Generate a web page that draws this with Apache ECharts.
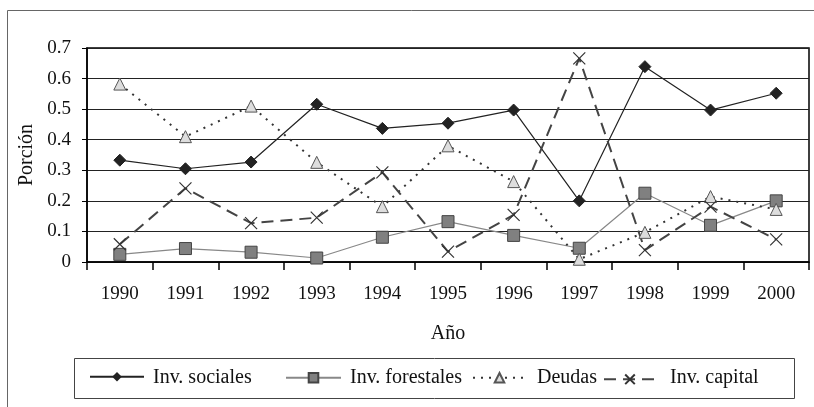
<!DOCTYPE html>
<html>
<head>
<meta charset="utf-8">
<script src="https://cdn.jsdelivr.net/npm/echarts@6/dist/echarts.min.js"></script>
<style>
  html, body { margin: 0; padding: 0; background: #fff; }
  #chart { width: 814px; height: 407px; }
</style>
</head>
<body>
<div id="chart"></div>
<script>
// datos
const years = ['1990', '1991', '1992', '1993', '1994', '1995', '1996', '1997', '1998', '1999', '2000'];
const seriesNames = ['Inv. sociales', 'Inv. forestales', 'Deudas', 'Inv. capital'];
const invSociales = [0.333, 0.305, 0.327, 0.516, 0.437, 0.454, 0.497, 0.200, 0.639, 0.497, 0.552];
const invForestales = [0.025, 0.044, 0.032, 0.013, 0.081, 0.132, 0.087, 0.045, 0.225, 0.120, 0.200];
const deudas = [0.582, 0.410, 0.510, 0.326, 0.181, 0.380, 0.263, 0.009, 0.097, 0.214, 0.172];
const invCapital = [0.058, 0.241, 0.127, 0.145, 0.293, 0.034, 0.154, 0.666, 0.039, 0.181, 0.074];

const font = 'Liberation Serif';
const crossPath = 'path://M0,0L10,10M10,0L0,10';

// posición de la leyenda (icono y texto de cada entrada)
const legendBox = { x: 74.5, y: 358.5, width: 720, height: 40 };
const legendIconLeft = [89, 285, 472, 603];
const legendIconWidth = [54, 55, 53, 52];
const legendTextLeft = [153, 350, 537, 670];
const legendMidY = 378;

const legends = seriesNames.map((name, i) => ({
  data: [name],
  left: legendIconLeft[i],
  top: legendMidY - 6,
  padding: 0,
  itemWidth: legendIconWidth[i],
  itemHeight: 12,
  formatter: () => ' ',
  textStyle: { fontSize: 1 },
  selectedMode: false
}));

const graphics = [
  {
    type: 'rect',
    shape: { x: 7.5, y: 10.5, width: 830, height: 420 },
    style: { fill: 'none', stroke: '#666', lineWidth: 1 },
    silent: true
  },
  {
    type: 'rect',
    shape: legendBox,
    style: { fill: 'none', stroke: '#444', lineWidth: 1 },
    silent: true
  }
].concat(seriesNames.map((name, i) => ({
  type: 'text',
  x: legendTextLeft[i],
  y: legendMidY,
  style: {
    text: name,
    font: '20px "Liberation Serif"',
    fill: '#111',
    verticalAlign: 'middle'
  },
  silent: true
})));

const chart = echarts.init(document.getElementById('chart'));
chart.setOption({
  animation: false,
  textStyle: { fontFamily: font },
  graphic: graphics,
  grid: {
    left: 87, right: 5, top: 48, bottom: 145,
    show: true, borderColor: '#000', borderWidth: 1.5
  },
  legend: legends,
  xAxis: {
    type: 'category',
    data: years,
    name: 'Año',
    nameLocation: 'middle',
    nameGap: 62,
    nameTextStyle: { fontFamily: font, fontSize: 20, color: '#111' },
    axisLine: { lineStyle: { color: '#000', width: 1.5 } },
    axisTick: { show: true, length: 8, lineStyle: { color: '#000', width: 1.5 } },
    axisLabel: { margin: 23, fontSize: 19, color: '#111', fontFamily: font }
  },
  yAxis: {
    type: 'value',
    min: 0, max: 0.7, interval: 0.1,
    name: 'Porción',
    nameLocation: 'middle',
    nameGap: 46,
    nameTextStyle: { fontFamily: font, fontSize: 20, color: '#111' },
    axisLine: { show: true, lineStyle: { color: '#000', width: 1.5 } },
    axisTick: { show: true, length: 5, lineStyle: { color: '#000' } },
    axisLabel: {
      margin: 16, fontSize: 19, color: '#111', fontFamily: font,
      formatter: v => (v === 0 ? '0' : v.toFixed(1))
    },
    splitLine: { lineStyle: { color: '#222', width: 1.2 } }
  },
  series: [
    {
      name: seriesNames[0],
      type: 'line',
      data: invSociales,
      symbol: 'diamond',
      symbolSize: 12,
      itemStyle: { color: '#222', borderColor: '#222' },
      lineStyle: { color: '#222', width: 1.2 }
    },
    {
      name: seriesNames[1],
      type: 'line',
      data: invForestales,
      symbol: 'rect',
      symbolSize: 12,
      itemStyle: { color: '#808080', borderColor: '#444', borderWidth: 1 },
      lineStyle: { color: '#888', width: 1.2 }
    },
    {
      name: seriesNames[2],
      type: 'line',
      data: deudas,
      symbol: 'triangle',
      symbolSize: 12,
      itemStyle: { color: '#ddd', borderColor: '#555', borderWidth: 1 },
      lineStyle: { color: '#333', width: 2, type: [2, 6] }
    },
    {
      name: seriesNames[3],
      type: 'line',
      data: invCapital,
      symbol: crossPath,
      symbolSize: 12,
      itemStyle: { color: 'none', borderColor: '#333', borderWidth: 1.2 },
      lineStyle: { color: '#444', width: 2, type: [12, 7] }
    }
  ]
});
</script>
</body>
</html>
